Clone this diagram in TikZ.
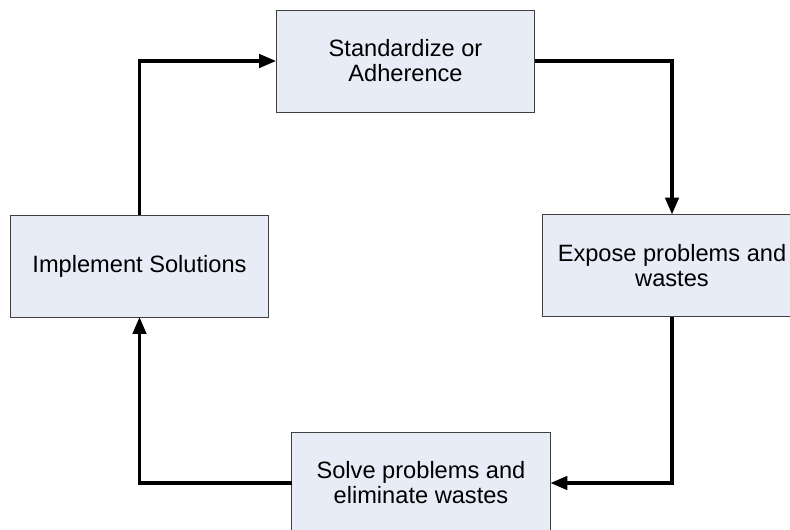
\documentclass[tikz,border=0pt]{standalone}
\usepackage{fontspec}
\setmainfont{Liberation Sans}
\usetikzlibrary{arrows.meta}
\definecolor{boxfill}{RGB}{231,236,247}
\definecolor{boxline}{RGB}{64,64,64}

\begin{document}
\begin{tikzpicture}[x=0.025cm,y=-0.025cm,inner sep=0pt,outer sep=0pt,
>={Triangle[length=12pt,width=9.5pt]},
cyclebox/.style={draw=boxline,fill=boxfill,rectangle,line width=0.7pt,minimum width=6.47cm,minimum height=2.55cm,
align=center,font=\fontsize{16.8}{17.8}\selectfont},
flow/.style={->,line width=2.3pt}]
\path[use as bounding box,clip] (0,0) rectangle (790,529);
\draw (405.5,61) node[cyclebox] (std) {Standardize or\\Adherence};
\draw (672,265.5) node[cyclebox] (expose) {Expose problems and\\wastes};
\draw (421,483) node[cyclebox] (solve) {Solve problems and\\eliminate wastes};
\draw (139.5,266) node[cyclebox] (impl) {Implement Solutions};
\draw[flow] (std.east) -| (expose.north);
\draw[flow] (expose.south) |- (solve.east);
\draw[flow] (solve.west) -| (impl.south);
\draw[flow] (impl.north) |- (std.west);

\end{tikzpicture}
\end{document}
